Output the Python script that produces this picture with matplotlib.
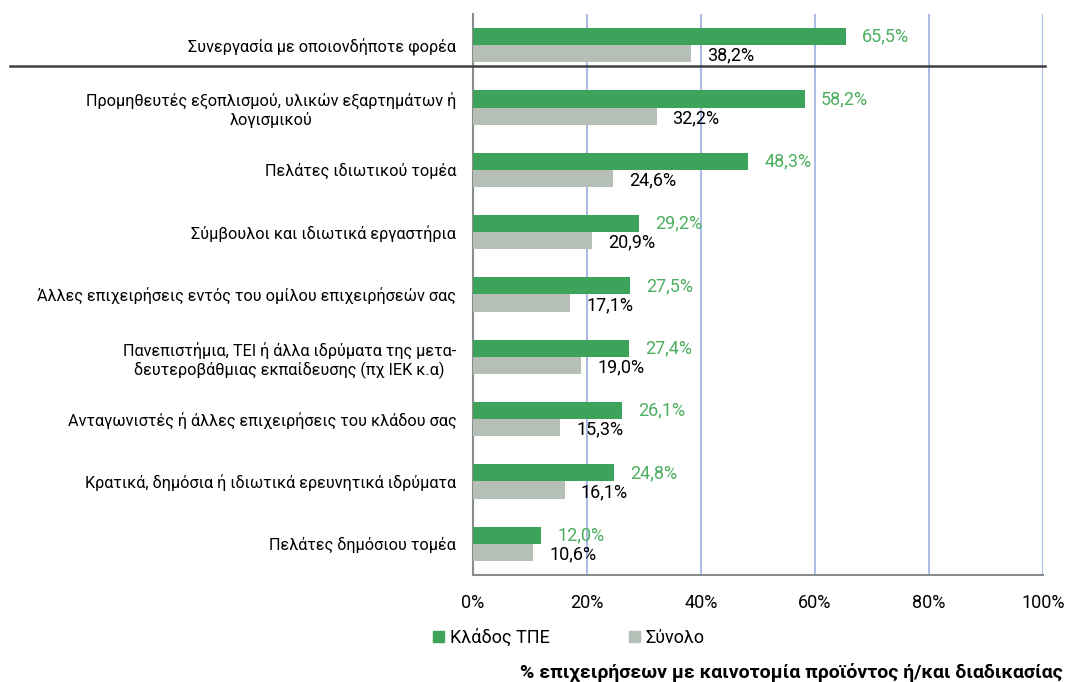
import numpy as np
import matplotlib.pyplot as plt
from matplotlib.patches import Patch

plt.rcParams['font.family'] = ['Roboto', 'Noto Sans', 'DejaVu Sans']

# categories and values (%)
kathgories = [
    "Συνεργασία με οποιονδήποτε φορέα",
    "Προμηθευτές εξοπλισμού, υλικών εξαρτημάτων ή\nλογισμικού",
    "Πελάτες ιδιωτικού τομέα",
    "Σύμβουλοι και ιδιωτικά εργαστήρια",
    "Άλλες επιχειρήσεις εντός του ομίλου επιχειρήσεών σας",
    "Πανεπιστήμια, ΤΕΙ ή άλλα ιδρύματα της μετα-\nδευτεροβάθμιας εκπαίδευσης (πχ ΙΕΚ κ.α)",
    "Ανταγωνιστές ή άλλες επιχειρήσεις του κλάδου σας",
    "Κρατικά, δημόσια ή ιδιωτικά ερευνητικά ιδρύματα",
    "Πελάτες δημόσιου τομέα",
]
klados_tpe = [65.5, 58.2, 48.3, 29.2, 27.5, 27.4, 26.1, 24.8, 12.0]
synolo = [38.2, 32.2, 24.6, 20.9, 17.1, 19.0, 15.3, 16.1, 10.6]

prasino = '#3da35a'
gkri = '#b6bfb5'
prasino_txt = '#4caf5f'

fig = plt.figure(figsize=(10.67, 6.82), dpi=100)
ax = fig.add_axes([473/1067, 1-575/682, 570/1067, 561/682])

y = np.arange(len(kathgories))
h = 0.275
ax.barh(y - h/2, klados_tpe, height=h, color=prasino, zorder=3)
ax.barh(y + h/2, synolo, height=h, color=gkri, zorder=3)

for i in range(len(y)):
    ax.text(klados_tpe[i] + 2.8, y[i] - h/2, f"{klados_tpe[i]:.1f}%".replace('.', ','),
            va='center', ha='left', color=prasino_txt, fontsize=13)
    ax.text(synolo[i] + 2.8, y[i] + h/2 + 0.03, f"{synolo[i]:.1f}%".replace('.', ','),
            va='center', ha='left', color='black', fontsize=13)

ax.set_xlim(0, 100)
ax.set_ylim(len(y) - 0.5, -0.5)
ax.set_xticks([0, 20, 40, 60, 80, 100])
ax.set_xticklabels(["0%", "20%", "40%", "60%", "80%", "100%"], fontsize=13)
ax.set_yticks(y)
ax.set_yticklabels(kathgories, fontsize=11.7, multialignment='center')
ax.tick_params(axis='both', length=0)
ax.tick_params(axis='y', pad=12)
ax.tick_params(axis='x', pad=14)

ax.grid(axis='x', color='#a9bde6', linewidth=1.5, zorder=0)
for s in ['top', 'right']:
    ax.spines[s].set_visible(False)
ax.spines['left'].set_color('#8c8c8c')
ax.spines['bottom'].set_color('#8c8c8c')
ax.spines['left'].set_linewidth(1.5)
ax.spines['bottom'].set_linewidth(1.5)

# separator line under the first category
ax.axhline(0.33, xmin=-0.812, xmax=1.004, color='#404040', linewidth=1.8, clip_on=False, zorder=4)

handles = [Patch(color=prasino, label='Κλάδος ΤΠΕ'), Patch(color=gkri, label='Σύνολο')]
fig.legend(handles=handles, loc='center left', bbox_to_anchor=(417/1067, 1-638/682), ncol=2,
           frameon=False, fontsize=13, handlelength=0.6, handleheight=0.6,
           handletextpad=0.3, columnspacing=4.4)

fig.text(791/1067, 1-672/682, "% επιχειρήσεων με καινοτομία προϊόντος ή/και διαδικασίας",
         ha='center', va='center', fontsize=14, fontweight='bold')

plt.savefig("out.png", dpi=100)
